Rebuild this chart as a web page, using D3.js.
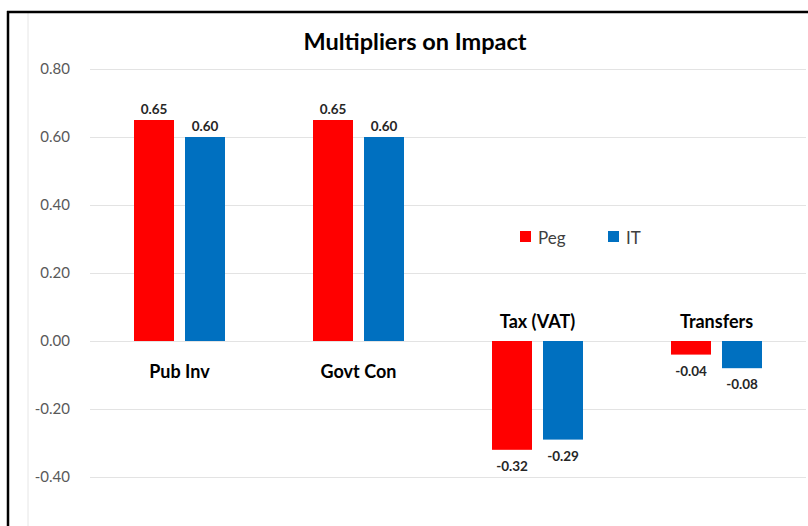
<!DOCTYPE html>
<html>
<head>
<meta charset="utf-8">
<script src="https://cdn.jsdelivr.net/npm/d3@7"></script>
<style>
  html, body { margin: 0; padding: 0; background: #fff; }
  svg { display: block; }
</style>
</head>
<body>
<svg id="chart" width="808" height="526"></svg>
<script>
const categories = ["Pub Inv", "Govt Con", "Tax (VAT)", "Transfers"];
const seriesNames = ["Peg", "IT"];
const pegValues = [0.65, 0.65, -0.32, -0.04];
const itValues = [0.60, 0.60, -0.29, -0.08];
const yTicks = [-0.4, -0.2, 0, 0.2, 0.4, 0.6, 0.8];
const colors = ["#FF0000", "#0070C0"];
const title = "Multipliers on Impact";

const FONT = "Lato, 'Open Sans', sans-serif";
const fmt = v => d3.format(".2f")(v).replace("\u2212", "-");
const svg = d3.select("#chart");

// frame
svg.append("rect").attr("x", 0).attr("y", 0).attr("width", 808).attr("height", 526).attr("fill", "#fff");
svg.append("line").attr("x1", 28).attr("x2", 28).attr("y1", 13).attr("y2", 526)
  .attr("stroke", "#e6e6e6").attr("stroke-width", 1);
svg.append("line").attr("x1", 7).attr("x2", 808).attr("y1", 12).attr("y2", 12)
  .attr("stroke", "#000").attr("stroke-width", 2.5);
svg.append("line").attr("x1", 8).attr("x2", 8).attr("y1", 11).attr("y2", 526)
  .attr("stroke", "#000").attr("stroke-width", 2.5);

const x0 = d3.scaleBand().domain(categories).range([90, 806]).paddingInner(0).paddingOuter(0);
const y = d3.scaleLinear().domain([-0.4, 0.8]).range([477, 69]);
const barW = 40, gap = 11;
const x1 = d3.scaleOrdinal().domain(seriesNames)
  .range([-(barW + gap) / 2 - barW / 2, (barW + gap) / 2 - barW / 2]);

// gridlines via axis
const yAxis = d3.axisLeft(y).tickValues(yTicks).tickSize(-(806 - 90)).tickPadding(20)
  .tickFormat(fmt);
const gy = svg.append("g").attr("transform", "translate(90,0)").call(yAxis);
gy.select(".domain").remove();
gy.selectAll(".tick line").attr("stroke", "#e3e3e3").attr("stroke-width", 1.2);
gy.selectAll(".tick text").attr("font-family", FONT).attr("font-size", 15)
  .attr("fill", "#595959").attr("x", -20);

// title
svg.append("text").attr("x", 415).attr("y", 50).attr("text-anchor", "middle")
  .attr("font-family", FONT).attr("font-weight", "bold").attr("font-size", 23.5)
  .attr("fill", "#000").text(title);

const data = categories.map((c, i) => ({ cat: c, vals: [
  { s: seriesNames[0], v: pegValues[i] },
  { s: seriesNames[1], v: itValues[i] }
]}));

const groups = svg.append("g").selectAll("g").data(data).join("g")
  .attr("transform", d => `translate(${x0(d.cat) + x0.bandwidth() / 2},0)`);

groups.selectAll("rect").data(d => d.vals).join("rect")
  .attr("x", d => x1(d.s))
  .attr("width", barW)
  .attr("y", d => y(Math.max(0, d.v)))
  .attr("height", d => Math.abs(y(d.v) - y(0)))
  .attr("fill", (d, i) => colors[i]);

groups.selectAll("text.val").data(d => d.vals).join("text").attr("class", "val")
  .attr("x", d => x1(d.s) + barW / 2)
  .attr("y", d => d.v >= 0 ? y(d.v) - 6 : y(d.v) + 21)
  .attr("text-anchor", "middle").attr("font-family", FONT).attr("font-weight", "bold")
  .attr("font-size", 13.5).attr("fill", "#262626")
  .text(d => fmt(d.v));

groups.append("text")
  .attr("x", 0)
  .attr("y", d => d.vals[0].v >= 0 ? y(0) + 37 : y(0) - 13)
  .attr("text-anchor", "middle").attr("font-family", FONT).attr("font-weight", "bold")
  .attr("font-size", 18).attr("fill", "#000")
  .text(d => d.cat);

// legend
const legendX = [520, 608];
const lg = svg.append("g").selectAll("g").data(seriesNames).join("g")
  .attr("transform", (d, i) => `translate(${legendX[i]},231)`);
lg.append("rect").attr("width", 11).attr("height", 11).attr("fill", (d, i) => colors[i]);
lg.append("text").attr("x", 18).attr("y", 13).attr("font-family", FONT).attr("font-size", 17)
  .attr("fill", "#404040").text(d => d);
</script>
</body>
</html>
